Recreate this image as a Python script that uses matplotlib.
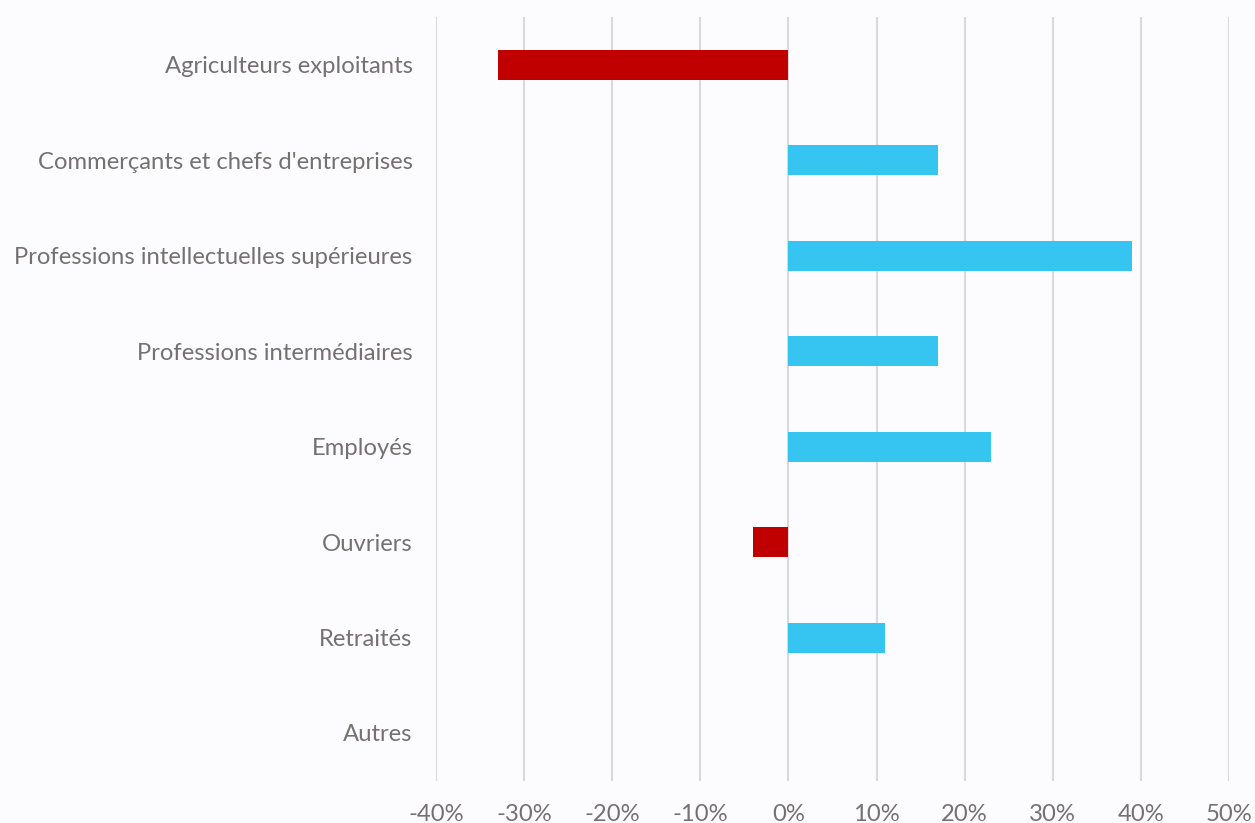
import numpy as np
from matplotlib import pyplot as plt
from matplotlib.ticker import FuncFormatter

categories = ["Agriculteurs exploitants", "Commerçants et chefs d'entreprises",
              "Professions intellectuelles supérieures", "Professions intermédiaires",
              "Employés", "Ouvriers", "Retraités", "Autres"]
values = [-33, 17, 39, 17, 23, -4, 11, 0]
x_ticks = [-40, -30, -20, -10, 0, 10, 20, 30, 40, 50]

bg = "#FCFCFF"
text_color = "#767171"

fig = plt.figure(figsize=(12.55, 8.23), dpi=100, facecolor=bg)
ax = fig.add_axes([0.3474, 0.0514, 0.6319, 0.9276], facecolor=bg)

y = np.arange(len(categories))
colors = ["#C00000" if v < 0 else "#36C5F0" for v in values]
ax.barh(y, values, height=0.314, color=colors, zorder=3)

ax.set_ylim(len(categories) - 0.5, -0.5)
ax.set_yticks(y)
ax.set_yticklabels(categories)
ax.set_xlim(-40, 50)
ax.set_xticks(x_ticks)
ax.xaxis.set_major_formatter(FuncFormatter(lambda v, p: f"{v:.0f}%"))

ax.grid(axis="x", color="#D9D9D9", linewidth=1.5, zorder=0)
for s in ax.spines.values():
    s.set_visible(False)
ax.tick_params(axis="both", length=0, colors=text_color, labelsize=17.2)
ax.tick_params(axis="y", pad=17)
ax.tick_params(axis="x", pad=16.5)
for lbl in ax.get_xticklabels() + ax.get_yticklabels():
    lbl.set_fontfamily(["Lato", "DejaVu Sans"])

fig.savefig("out.png", dpi=100, facecolor=bg)
